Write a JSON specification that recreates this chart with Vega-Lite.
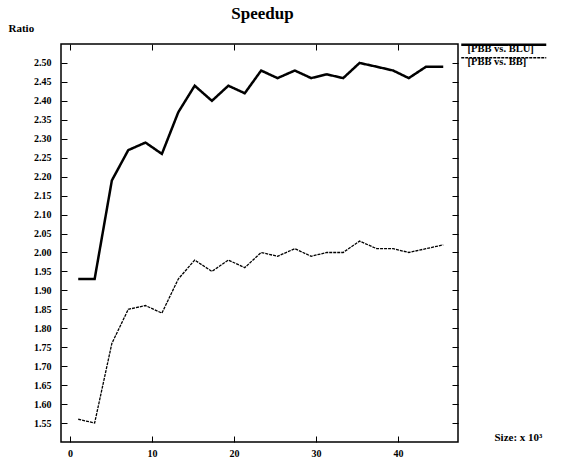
{
  "$schema": "https://vega.github.io/schema/vega-lite/v6.json",
  "width": 397,
  "height": 398,
  "autosize": {"type": "none"},
  "padding": {"left": 61, "top": 44, "right": 103, "bottom": 17},
  "background": "white",
  "title": {"text": "Speedup", "font": "Liberation Serif", "fontSize": 17, "fontWeight": "bold", "anchor": "middle", "frame": "group", "dx": 3, "dy": 5, "color": "black"},
  "config": {
    "view": {"stroke": "black", "strokeWidth": 1.5},
    "axis": {"grid": false, "domain": false, "tickColor": "black", "tickWidth": 1, "tickSize": -6, "labelFont": "Liberation Serif", "labelFontSize": 10, "labelFontWeight": "bold", "labelColor": "black", "titleFont": "Liberation Serif", "titleFontWeight": "bold", "titleColor": "black"}
  },
  "data": {"values": [
    {"series": "[PBB vs. BLU]", "x": 1, "y": 1.93},
    {"series": "[PBB vs. BLU]", "x": 3, "y": 1.93},
    {"series": "[PBB vs. BLU]", "x": 5.1, "y": 2.19},
    {"series": "[PBB vs. BLU]", "x": 7.1, "y": 2.27},
    {"series": "[PBB vs. BLU]", "x": 9.2, "y": 2.29},
    {"series": "[PBB vs. BLU]", "x": 11.2, "y": 2.26},
    {"series": "[PBB vs. BLU]", "x": 13.2, "y": 2.37},
    {"series": "[PBB vs. BLU]", "x": 15.2, "y": 2.44},
    {"series": "[PBB vs. BLU]", "x": 17.3, "y": 2.40},
    {"series": "[PBB vs. BLU]", "x": 19.3, "y": 2.44},
    {"series": "[PBB vs. BLU]", "x": 21.3, "y": 2.42},
    {"series": "[PBB vs. BLU]", "x": 23.3, "y": 2.48},
    {"series": "[PBB vs. BLU]", "x": 25.3, "y": 2.46},
    {"series": "[PBB vs. BLU]", "x": 27.4, "y": 2.48},
    {"series": "[PBB vs. BLU]", "x": 29.4, "y": 2.46},
    {"series": "[PBB vs. BLU]", "x": 31.3, "y": 2.47},
    {"series": "[PBB vs. BLU]", "x": 33.3, "y": 2.46},
    {"series": "[PBB vs. BLU]", "x": 35.3, "y": 2.50},
    {"series": "[PBB vs. BLU]", "x": 37.4, "y": 2.49},
    {"series": "[PBB vs. BLU]", "x": 39.4, "y": 2.48},
    {"series": "[PBB vs. BLU]", "x": 41.3, "y": 2.46},
    {"series": "[PBB vs. BLU]", "x": 43.4, "y": 2.49},
    {"series": "[PBB vs. BLU]", "x": 45.5, "y": 2.49},
    {"series": "[PBB vs. BB]", "x": 1, "y": 1.56},
    {"series": "[PBB vs. BB]", "x": 3, "y": 1.55},
    {"series": "[PBB vs. BB]", "x": 5.1, "y": 1.76},
    {"series": "[PBB vs. BB]", "x": 7.1, "y": 1.85},
    {"series": "[PBB vs. BB]", "x": 9.2, "y": 1.86},
    {"series": "[PBB vs. BB]", "x": 11.2, "y": 1.84},
    {"series": "[PBB vs. BB]", "x": 13.2, "y": 1.93},
    {"series": "[PBB vs. BB]", "x": 15.2, "y": 1.98},
    {"series": "[PBB vs. BB]", "x": 17.3, "y": 1.95},
    {"series": "[PBB vs. BB]", "x": 19.3, "y": 1.98},
    {"series": "[PBB vs. BB]", "x": 21.3, "y": 1.96},
    {"series": "[PBB vs. BB]", "x": 23.3, "y": 2.00},
    {"series": "[PBB vs. BB]", "x": 25.3, "y": 1.99},
    {"series": "[PBB vs. BB]", "x": 27.4, "y": 2.01},
    {"series": "[PBB vs. BB]", "x": 29.4, "y": 1.99},
    {"series": "[PBB vs. BB]", "x": 31.3, "y": 2.00},
    {"series": "[PBB vs. BB]", "x": 33.3, "y": 2.00},
    {"series": "[PBB vs. BB]", "x": 35.3, "y": 2.03},
    {"series": "[PBB vs. BB]", "x": 37.4, "y": 2.01},
    {"series": "[PBB vs. BB]", "x": 39.4, "y": 2.01},
    {"series": "[PBB vs. BB]", "x": 41.3, "y": 2.00},
    {"series": "[PBB vs. BB]", "x": 43.4, "y": 2.01},
    {"series": "[PBB vs. BB]", "x": 45.5, "y": 2.02}
  ]},
  "layer": [
    {
      "mark": {"type": "line", "clip": true},
      "encoding": {
        "x": {"field": "x", "type": "quantitative", "scale": {"domain": [-1.1, 47.3], "nice": false, "zero": false},
          "axis": {"orient": "bottom", "values": [0, 10, 20, 30, 40], "labelPadding": 12, "title": "Size: x 10³", "titleFontSize": 11, "titleAlign": "left", "titleBaseline": "middle", "titleAnchor": "start", "titleX": 433, "titleY": -5}},
        "y": {"field": "y", "type": "quantitative", "scale": {"domain": [1.5, 2.55], "nice": false, "zero": false},
          "axis": {"orient": "left", "values": [1.55, 1.6, 1.65, 1.7, 1.75, 1.8, 1.85, 1.9, 1.95, 2.0, 2.05, 2.1, 2.15, 2.2, 2.25, 2.3, 2.35, 2.4, 2.45, 2.5], "format": ".2f", "labelPadding": 16, "title": "Ratio", "titleFontSize": 11, "titleAngle": 0, "titleAlign": "left", "titleBaseline": "middle", "titleAnchor": "start", "titleX": -53, "titleY": -16}},
        "color": {"field": "series", "type": "nominal", "scale": {"domain": ["[PBB vs. BLU]", "[PBB vs. BB]"], "range": ["black", "black"]},
          "legend": {"orient": "none", "legendX": 396, "legendY": 0, "title": null, "symbolType": "M -1 -4.5 L 84 -4.5", "symbolSize": 4, "labelFont": "Liberation Serif", "labelFontSize": 10.5, "labelFontWeight": "bold", "labelColor": "black", "labelOffset": 0, "rowPadding": 0, "padding": 0}},
        "strokeDash": {"field": "series", "type": "nominal", "scale": {"domain": ["[PBB vs. BLU]", "[PBB vs. BB]"], "range": [[1, 0], [3, 1]]}},
        "strokeWidth": {"field": "series", "type": "nominal", "scale": {"domain": ["[PBB vs. BLU]", "[PBB vs. BB]"], "range": [2.5, 1.3]}}
      }
    },
    {
      "mark": {"type": "line", "opacity": 0},
      "encoding": {
        "x": {"field": "x", "type": "quantitative", "scale": {"domain": [-1.1, 47.3], "nice": false, "zero": false},
          "axis": {"orient": "top", "values": [0, 10, 20, 30, 40], "labels": false, "title": null}},
        "y": {"field": "y", "type": "quantitative", "scale": {"domain": [1.5, 2.55], "nice": false, "zero": false},
          "axis": {"orient": "right", "values": [1.55, 1.6, 1.65, 1.7, 1.75, 1.8, 1.85, 1.9, 1.95, 2.0, 2.05, 2.1, 2.15, 2.2, 2.25, 2.3, 2.35, 2.4, 2.45, 2.5], "labels": false, "title": null}},
        "detail": {"field": "series", "type": "nominal"}
      }
    }
  ],
  "resolve": {"axis": {"x": "independent", "y": "independent"}}
}
